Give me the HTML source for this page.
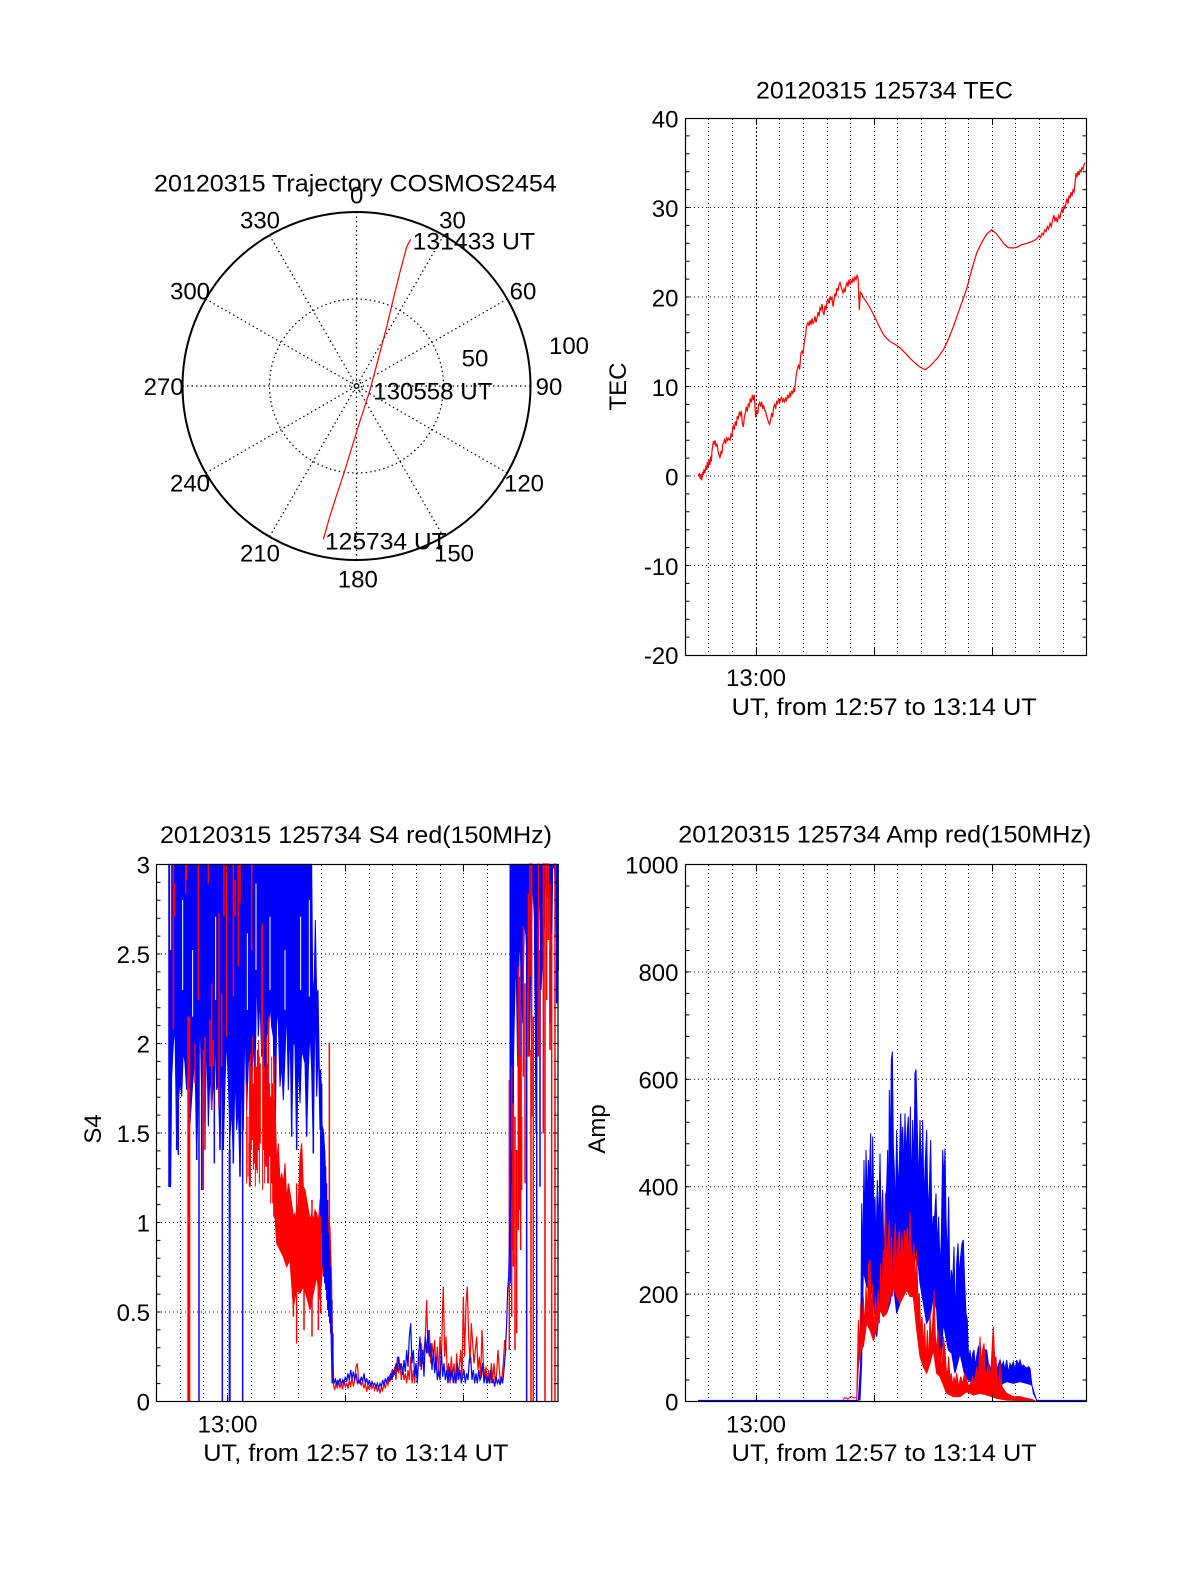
<!DOCTYPE html>
<html>
<head>
<meta charset="utf-8">
<style>
html,body{margin:0;padding:0;background:#fff;}
svg{display:block;}
text{font-family:"Liberation Sans",Arial,Helvetica,sans-serif;font-size:24px;fill:#000;}
</style>
</head>
<body>
<svg width="1200" height="1575" viewBox="0 0 1200 1575" xmlns="http://www.w3.org/2000/svg">
<rect width="1200" height="1575" fill="#fff"/>

<!-- ================= POLAR PLOT ================= -->
<g fill="none" stroke="#000">
  <g stroke-width="1.2" stroke-dasharray="1.5,3">
    <line x1="356.5" y1="212" x2="356.5" y2="560"/>
    <line x1="443.5" y1="235.3" x2="269.5" y2="536.7"/>
    <line x1="507.2" y1="299" x2="205.8" y2="473"/>
    <line x1="530.5" y1="386" x2="182.5" y2="386"/>
    <line x1="507.2" y1="473" x2="205.8" y2="299"/>
    <line x1="443.5" y1="536.7" x2="269.5" y2="235.3"/>
    <circle cx="356.5" cy="386" r="87"/>
    <circle cx="356.5" cy="386" r="5"/>
  </g>
  <circle cx="356.5" cy="386" r="174" stroke-width="2"/>
</g>
<polyline fill="none" stroke="#f00" stroke-width="1.2" points="323.3,539.3 330,516 337,494 344,473 352,447 360,421 370,390 378,360 386.7,326.7 394,296 400,272 406.7,246.7 410.7,239.3"/>
<text x="154" y="191.7" textLength="402.7" lengthAdjust="spacingAndGlyphs">20120315 Trajectory COSMOS2454</text>
<g text-anchor="middle">
<text x="356.7" y="203.3">0</text>
<text x="452.5" y="228.3">30</text>
<text x="523" y="299.3">60</text>
<text x="549" y="395">90</text>
<text x="524" y="491.7">120</text>
<text x="454" y="561.7">150</text>
<text x="357.8" y="587.3">180</text>
<text x="260" y="561.7">210</text>
<text x="190" y="491.7">240</text>
<text x="163.7" y="395">270</text>
<text x="190" y="299.3">300</text>
<text x="260" y="228.3">330</text>
<text x="475" y="366.7">50</text>
<text x="569" y="354">100</text>
</g>
<text x="412.7" y="249.3" textLength="122.3" lengthAdjust="spacingAndGlyphs">131433 UT</text>
<text x="373.3" y="399.3" textLength="119" lengthAdjust="spacingAndGlyphs">130558 UT</text>
<text x="325" y="549.3" textLength="121.7" lengthAdjust="spacingAndGlyphs">125734 UT</text>

<!-- ================= TEC PLOT ================= -->
<g stroke="#000" stroke-width="1" fill="none" stroke-dasharray="1,3">
  <path d="M708.5,119V655M732.5,119V655M779.5,119V655M803.5,119V655M827.5,119V655M850.5,119V655M874.5,119V655M897.5,119V655M921.5,119V655M945.5,119V655M968.5,119V655M992.5,119V655M1015.5,119V655M1039.5,119V655M1063.5,119V655"/>
  <path d="M686,207.5H1086M686,297H1086M686,386.5H1086M686,476H1086M686,565.5H1086"/>
</g>
<path d="M756.5,119V655" stroke="#000" stroke-width="1" stroke-dasharray="2,2" fill="none"/>
<rect x="685.5" y="118.5" width="401" height="537" fill="none" stroke="#000" stroke-width="1.2"/>
<g stroke="#000" stroke-width="1" fill="none">
  <path d="M685.5,135.9h4m-4,17.9h4m-4,17.9h4m-4,17.9h4m-4,17.9h4m-4,17.9h4m-4,17.9h4m-4,17.9h4m-4,17.9h4m-4,17.9h4m-4,17.9h4m-4,17.9h4m-4,17.9h4m-4,17.9h4m-4,17.9h4m-4,17.9h4m-4,17.9h4m-4,17.9h4m-4,17.9h4m-4,17.9h4m-4,17.9h4m-4,17.9h4m-4,17.9h4m-4,17.9h4m-4,17.9h4m-4,17.9h4m-4,17.9h4m-4,17.9h4m-4,17.9h4"/>
  <path d="M1086.5,135.9h-4m4,17.9h-4m4,17.9h-4m4,17.9h-4m4,17.9h-4m4,17.9h-4m4,17.9h-4m4,17.9h-4m4,17.9h-4m4,17.9h-4m4,17.9h-4m4,17.9h-4m4,17.9h-4m4,17.9h-4m4,17.9h-4m4,17.9h-4m4,17.9h-4m4,17.9h-4m4,17.9h-4m4,17.9h-4m4,17.9h-4m4,17.9h-4m4,17.9h-4m4,17.9h-4m4,17.9h-4m4,17.9h-4m4,17.9h-4m4,17.9h-4m4,17.9h-4"/>
  <path d="M756.5,655v-7M874.5,655v-7M992.5,655v-7M756.5,118v7M874.5,118v7M992.5,118v7"/>
</g>
<g transform="translate(600,70) scale(0.33333,0.42088)">
<path vector-effect="non-scaling-stroke" fill="none" stroke="#f00" stroke-width="1.2" d="M295,965 L298,958 301,972 303,960 305,975 308,955 310,962 312,948 315,958 318,940 320,950 322,932 325,945 327,925 330,938 332,918 334,930 336,905 338,895 340,882 343,890 345,880 348,895 351,888 354,905 357,915 360,922 363,905 366,912 368,890 371,885 374,878 377,888 380,872 383,880 386,875 390,880 393,866 396,872 398,850 400,845 403,855 406,835 409,845 412,822 415,830 418,812 421,820 424,810 427,840 430,848 433,825 436,815 439,800 442,812 445,792 448,798 451,780 454,790 457,772 460,785 463,772 465,800 467,825 470,808 473,818 476,795 479,790 482,800 485,788 488,805 491,798 494,808 497,812 500,822 503,830 506,838 509,842 512,830 515,815 518,825 521,800 524,795 527,805 530,788 533,792 536,780 539,790 542,782 545,778 548,790 551,782 554,788 557,780 560,785 563,772 566,780 569,768 572,775 575,762 578,770 581,758 584,765 586,745 588,728 590,718 593,708 596,700 599,712 601,690 603,672 606,668 609,675 612,652 614,640 617,630 619,612 621,605 624,600 627,608 630,595 633,605 636,590 639,602 642,598 645,585 648,600 651,590 654,575 657,585 660,565 663,570 666,556 669,575 672,582 675,560 678,570 681,550 684,545 687,555 690,538 693,545 696,540 699,562 702,548 705,530 708,538 711,518 714,525 717,510 720,505 723,515 726,522 729,530 732,520 735,528 738,512 741,505 744,515 747,498 750,510 753,500 756,505 759,495 762,502 765,492 768,498 771,488 774,492 776,530 778,570 779,555 781,528 784,530 790,540 800,552 810,565 820,580 835,605 850,628 860,638 870,645 885,652 900,660 915,672 930,685 945,696 960,706 975,712 988,705 1000,695 1015,682 1030,665 1045,640 1060,610 1080,565 1100,520 1115,475 1130,435 1145,410 1160,390 1175,380 1188,388 1200,400 1212,413 1225,422 1240,423 1252,421 1265,415 1280,412 1295,408 1305,404 1312,400 1318,393 1322,398 1326,388 1330,392 1334,380 1338,384 1342,372 1346,378 1350,364 1354,372 1358,355 1362,345 1365,360 1368,350 1372,362 1376,345 1380,352 1383,338 1386,330 1389,340 1392,322 1395,330 1398,315 1401,305 1404,318 1407,298 1410,305 1413,290 1416,300 1419,285 1422,290 1425,270 1428,245 1431,255 1434,240 1437,250 1440,238 1443,242 1446,232 1449,236 1452,225 1455,220"/>
</g>
<text x="756" y="98.6" textLength="257" lengthAdjust="spacingAndGlyphs">20120315 125734 TEC</text>
<g text-anchor="end">
<text x="678.5" y="127.5">40</text>
<text x="678.5" y="217">30</text>
<text x="678.5" y="306.5">20</text>
<text x="678.5" y="396">10</text>
<text x="678.5" y="485.5">0</text>
<text x="678.5" y="575">-10</text>
<text x="678.5" y="664">-20</text>
</g>
<text transform="translate(626,386.5) rotate(-90)" text-anchor="middle">TEC</text>
<text x="756" y="686" text-anchor="middle">13:00</text>
<text x="731.7" y="715" textLength="305" lengthAdjust="spacingAndGlyphs">UT, from 12:57 to 13:14 UT</text>

<!-- ================= S4 PLOT ================= -->
<g stroke="#000" stroke-width="1" fill="none" stroke-dasharray="1,3">
  <path d="M180.5,865V1401M203.5,865V1401M227.5,865V1401M251.5,865V1401M274.5,865V1401M298.5,865V1401M321.5,865V1401M345.5,865V1401M369.5,865V1401M392.5,865V1401M416.5,865V1401M440.5,865V1401M463.5,865V1401M487.5,865V1401M510.5,865V1401M534.5,865V1401"/>
  <path d="M157,954H558M157,1043.5H558M157,1133H558M157,1222.5H558M157,1312H558"/>
</g>

<!-- S4 data, zoom5 coordinates -->
<g transform="translate(150,850) scale(0.33333)">
  <!-- blue left mass -->
  <path vector-effect="non-scaling-stroke" fill="#00f" stroke="#00f" stroke-width="1" d="M57,43 L485,43 488,390 492,430 496,210 500,440 504,420 508,660 512,660 516,830 520,840 524,900 528,1000 532,1100 536,1180 540,1260 544,1350 547,1450 550,1590 546,1600 542,1400 538,1280 534,1150 530,1080 526,1060 522,1100 518,1000 515,700 510,840 505,590 500,740 495,440 490,910 485,660 480,540 475,660 470,860 465,640 460,620 455,600 450,760 445,620 440,900 435,590 430,560 425,860 420,520 415,720 410,470 405,620 400,750 395,640 390,710 385,520 380,480 375,940 370,560 365,530 360,460 355,560 350,540 345,940 340,530 335,620 330,440 325,560 320,360 315,710 310,560 305,720 300,600 295,640 290,780 285,500 280,840 275,680 270,980 265,770 260,840 255,660 250,940 245,770 240,860 235,700 230,560 225,700 220,900 215,580 210,900 205,700 200,720 195,560 190,700 185,780 180,660 175,830 170,540 165,860 160,620 155,720 150,500 140,930 135,620 128,700 120,820 115,500 110,720 105,640 100,600 95,740 90,690 85,760 80,900 75,530 70,580 65,680 62,1010 57,1010 Z"/>
  <!-- a few white gaps inside blue mass -->
  <path vector-effect="non-scaling-stroke" fill="none" stroke="#fff" stroke-width="1" d="M62,43V300M98,150V420M128,300V500M197,200V450M292,250V480M318,100V360M360,200V420M405,300V480M452,200V420M478,150V440"/>
  <!-- blue spikes left -->
  <path vector-effect="non-scaling-stroke" fill="none" stroke="#00f" stroke-width="1.5" d="M57,43V1010M80,550V900M85,600V915M140,600V930M155,600V1020M193,600V940M210,600V900M220,600V900M250,700V940M270,700V980M300,600V940M345,600V940M375,600V940M425,600V860M440,600V900M470,600V860M490,700V910M147,600V1654M217,600V1654M239,600V1654M278,600V1654"/>
  <path vector-effect="non-scaling-stroke" fill="none" stroke="#00f" stroke-width="2" d="M239,900V1654"/>
  <!-- red spikes in 290-375 region -->
  <path vector-effect="non-scaling-stroke" fill="none" stroke="#f00" stroke-width="1" d="M290,700V1000M294,800V980M298,880V1010M301,610V1000M304,650V900M307,560V870M310,700V960M313,650V940M316,600V1010M319,650V960M322,600V970M325,570V900M328,620V1000M331,640V880M335,230V600M338,600V1020M341,520V900M344,650V1000M347,720V950M350,560V950M353,640V1000M356,500V1000M359,700V920M362,740V1060M365,620V1000M368,700V1060M371,750V1100M374,700V1100"/>
  <!-- red mass -->
  <path vector-effect="non-scaling-stroke" fill="#f00" stroke="#f00" stroke-width="1" d="M375,760 L380,940 385,880 390,1000 395,970 400,1000 405,940 410,1050 415,1000 420,1030 425,1060 430,1100 435,1090 440,1120 445,1060 450,920 455,880 460,1010 465,1020 470,1050 475,1080 480,1110 485,1090 490,1110 495,1080 500,1090 505,1120 510,1050 515,1040 520,1040 525,1000 530,1060 535,1120 540,1130 545,1300 548,1500 551,1580 546,1530 540,1300 530,1260 520,1230 510,1350 500,1280 490,1330 480,1380 470,1340 460,1310 450,1330 440,1320 430,1370 420,1230 410,1250 400,1220 390,1200 380,1180 375,1100 Z"/>
  <!-- red spikes left -->
  <path vector-effect="non-scaling-stroke" fill="none" stroke="#f00" stroke-width="1.5" d="M70,43V540M73,100V200M107,43V130M110,43V90M135,580V700M145,43V450M160,600V1020M165,560V900M175,43V100M180,510V650M185,400V780M190,570V650M207,190V770M215,430V650M222,43V200M230,43V560M250,43V440M255,90V200M265,43V350M270,43V160M300,700V1010M305,43V300M318,650V780M325,600V790M337,220V600M355,510V800M372,620V1060M538,578V1200M430,1100V1400M440,1000V1480M462,1100V1440M486,1050V1460M505,1100V1440M512,1250V1390"/>
  <rect x="112" y="500" width="9" height="1154" fill="#f00"/>
  <!-- blue descending over red -->
  <path vector-effect="non-scaling-stroke" fill="none" stroke="#00f" stroke-width="1.2" d="M512,660V1100M515,700V1150M518,830V1250M521,850V1280M524,900V1300M527,950V1320M530,1000V1350M533,1050V1380M536,1150V1400M539,1200V1420M542,1250V1450M546,1350V1560M549,1450V1590"/>

  <!-- right mass blue -->
  <path vector-effect="non-scaling-stroke" fill="#00f" stroke="#00f" stroke-width="1" d="M1080,43 L1225,43 1225,360 1221,360 1218,200 1214,60 1208,45 1203,520 1198,60 1193,140 1188,60 1183,200 1178,320 1173,420 1168,70 1163,320 1158,850 1153,200 1148,90 1143,300 1138,620 1133,380 1128,260 1123,210 1118,520 1113,345 1108,260 1103,650 1098,300 1093,500 1088,740 1083,600 1080,900 Z"/>
  <path vector-effect="non-scaling-stroke" fill="none" stroke="#00f" stroke-width="1.5" d="M1130,300V1654M1160,300V1654M1082,500V1300M1086,600V1200M1090,500V1100M1113,300V1010M1170,300V1010M1220,300V460M1200,300V520"/>
  <!-- right red spikes -->
  <path vector-effect="non-scaling-stroke" fill="none" stroke="#f00" stroke-width="1.5" d="M1078,690V1500M1085,650V1400M1090,760V1250M1095,800V1500M1100,900V1450M1105,350V1140M1108,380V1080M1112,620V1200M1115,800V1020M1120,230V680M1125,400V1000M1135,130V620M1140,40V380M1145,40V800M1165,40V620M1180,40V850M1185,40V1654M1190,40V450M1195,40V270M1200,100V600M1143,600V1654M1150,500V1654M1205,250V1654M1215,40V1654"/>
</g>

<!-- S4 quiet region, zoom6 coordinates -->
<g transform="translate(150,1150) scale(0.33333)">
  <polyline vector-effect="non-scaling-stroke" fill="none" stroke="#f00" stroke-width="1.2" points="546,630 550,700 554,720 558,700 562,715 566,695 570,712 574,700 578,718 582,690 586,710 590,700 594,716 598,690 602,712 606,680 610,710 614,690 618,650 622,640 626,700 630,690 634,705 638,695 642,715 646,700 650,725 654,705 658,720 662,700 666,715 670,705 674,720 678,705 682,725 686,710 690,730 694,712 698,722 702,700 706,715 710,695 714,705 718,680 722,690 726,660 730,680 734,650 738,690 742,620 746,670 750,640 754,690 758,650 762,690 766,670 770,700 774,660 778,690 782,620 786,700 790,660 794,700 798,640 802,690 806,600 810,650 814,580 818,640 822,600 826,560 830,450 834,610 838,540 842,640 846,580 850,620 854,570 858,660 862,590 866,680 870,560 874,640 878,470 880,410 884,620 888,560 892,680 896,640 900,700 904,620 908,680 912,640 916,700 920,610 924,690 928,650 932,600 936,690 940,440 944,620 948,460 952,410 956,560 960,640 964,520 968,580 972,640 976,600 980,560 984,660 988,620 992,680 996,540 1000,640 1004,680 1008,650 1012,700 1016,660 1020,700 1024,640 1028,690 1032,640 1036,700 1040,670 1044,600 1048,660 1052,700 1056,680 1060,640 1064,570 1068,600"/>
  <polyline vector-effect="non-scaling-stroke" fill="none" stroke="#00f" stroke-width="1.2" points="546,600 550,690 553,700 556,685 560,705 563,690 566,700 570,685 574,705 578,690 582,700 586,680 590,695 594,670 598,690 602,660 606,685 610,665 614,690 618,670 622,700 626,690 630,700 634,680 638,695 642,670 646,700 650,685 654,705 658,690 662,710 666,695 670,705 674,700 678,712 682,700 686,715 690,700 694,710 698,690 702,705 706,685 710,700 714,680 718,695 722,670 726,690 730,660 734,675 738,640 742,665 746,620 750,660 754,640 758,675 762,630 766,665 770,600 774,650 778,560 782,520 786,640 790,600 794,680 798,640 802,700 806,620 810,560 814,660 818,600 822,680 826,560 830,610 834,540 838,620 842,580 846,660 850,600 854,670 858,620 862,690 866,660 870,690 874,600 878,680 882,640 886,690 890,660 894,700 898,650 902,690 906,660 910,700 914,670 918,700 922,640 926,690 930,660 934,700 938,680 942,660 946,700 950,670 954,690 958,630 962,620 966,690 970,660 974,700 978,670 982,700 986,660 990,690 994,680 998,640 1002,700 1006,670 1010,700 1014,680 1018,700 1022,660 1026,700 1030,690 1034,710 1038,680 1042,700 1046,690 1050,705 1054,680 1058,700 1062,660 1066,610 1070,520 1073,420 1076,380 1078,300 1080,200 1083,100 1086,0"/>
  <path vector-effect="non-scaling-stroke" fill="none" stroke="#f00" stroke-width="1.2" d="M1088,0V300M1095,0V340M1100,0V280M1105,0V200M1112,0V120"/>
</g>

<rect x="156.5" y="864.5" width="401.5" height="537" fill="none" stroke="#000" stroke-width="1.2"/>
<g stroke="#000" stroke-width="1" fill="none">
  <path d="M156.5,882.4h4m-4,17.9h4m-4,17.9h4m-4,17.9h4m-4,17.9h4m-4,17.9h4m-4,17.9h4m-4,17.9h4m-4,17.9h4m-4,17.9h4m-4,17.9h4m-4,17.9h4m-4,17.9h4m-4,17.9h4m-4,17.9h4m-4,17.9h4m-4,17.9h4m-4,17.9h4m-4,17.9h4m-4,17.9h4m-4,17.9h4m-4,17.9h4m-4,17.9h4m-4,17.9h4m-4,17.9h4m-4,17.9h4m-4,17.9h4m-4,17.9h4m-4,17.9h4"/>
  <path d="M558,882.4h-4m4,17.9h-4m4,17.9h-4m4,17.9h-4m4,17.9h-4m4,17.9h-4m4,17.9h-4m4,17.9h-4m4,17.9h-4m4,17.9h-4m4,17.9h-4m4,17.9h-4m4,17.9h-4m4,17.9h-4m4,17.9h-4m4,17.9h-4m4,17.9h-4m4,17.9h-4m4,17.9h-4m4,17.9h-4m4,17.9h-4m4,17.9h-4m4,17.9h-4m4,17.9h-4m4,17.9h-4m4,17.9h-4m4,17.9h-4m4,17.9h-4m4,17.9h-4"/>
  <path d="M227.5,1401.5v-7M345.5,1401.5v-7M463.5,1401.5v-7M227.5,864.5v7M345.5,864.5v7M463.5,864.5v7"/>
</g>
<text x="160" y="843" textLength="392" lengthAdjust="spacingAndGlyphs">20120315 125734 S4 red(150MHz)</text>
<g text-anchor="end">
<text x="150" y="873.5">3</text>
<text x="150" y="963">2.5</text>
<text x="150" y="1052.5">2</text>
<text x="150" y="1142">1.5</text>
<text x="150" y="1231.5">1</text>
<text x="150" y="1321">0.5</text>
<text x="150" y="1410.5">0</text>
</g>
<text transform="translate(101,1129) rotate(-90)" text-anchor="middle">S4</text>
<text x="227.5" y="1432.5" text-anchor="middle">13:00</text>
<text x="203.3" y="1461" textLength="305" lengthAdjust="spacingAndGlyphs">UT, from 12:57 to 13:14 UT</text>

<!-- ================= AMP PLOT ================= -->
<g stroke="#000" stroke-width="1" fill="none" stroke-dasharray="1,3">
  <path d="M708.5,865V1401M732.5,865V1401M756.5,865V1401M779.5,865V1401M803.5,865V1401M827.5,865V1401M850.5,865V1401M874.5,865V1401M897.5,865V1401M921.5,865V1401M945.5,865V1401M968.5,865V1401M992.5,865V1401M1015.5,865V1401M1039.5,865V1401M1063.5,865V1401"/>
  <path d="M686,971.9H1086M686,1079.3H1086M686,1186.7H1086M686,1294.1H1086"/>
</g>
<g transform="translate(840,1030) scale(0.33333)">
  <path vector-effect="non-scaling-stroke" fill="#00f" stroke="#00f" stroke-width="1" d="M55,1110 L62,1000 65,520 68,700 72,390 75,600 78,360 82,520 85,390 88,450 92,310 95,600 98,320 102,560 105,500 108,650 112,450 116,600 120,370 124,620 128,480 132,700 136,520 140,470 143,360 146,560 148,180 151,400 154,90 157,65 160,350 163,420 166,560 170,300 174,480 178,400 182,250 185,360 188,290 192,420 195,250 198,380 202,300 205,260 208,450 211,230 214,500 218,270 222,420 225,130 228,118 232,300 236,480 240,270 244,460 248,270 252,520 256,390 260,300 264,560 268,470 272,330 276,620 280,560 284,560 288,490 292,660 296,560 300,720 304,620 308,360 312,450 315,355 318,560 322,700 326,500 330,800 334,720 338,760 342,650 346,880 350,700 354,640 358,740 362,680 366,640 370,630 374,760 378,850 382,870 386,1000 390,960 394,1000 398,970 402,960 406,1010 410,980 415,950 420,960 425,1000 430,960 440,960 445,1000 450,1010 455,1040 460,1000 465,1030 470,1020 475,1005 480,990 485,1010 490,995 495,1020 500,990 505,1030 510,1000 515,1010 520,995 525,1020 530,990 535,1005 540,990 545,1010 550,1005 555,1010 560,1015 565,1010 570,1015 575,1060 580,1090 590,1110 590,1112 575,1065 560,1060 540,1055 520,1060 500,1055 480,1065 460,1060 440,1050 420,1055 400,1060 385,1050 375,1040 360,970 345,1030 335,970 325,960 310,880 300,1040 290,840 280,800 270,860 260,880 250,820 240,760 230,660 220,720 210,700 200,750 190,780 180,820 170,850 160,760 150,820 140,850 130,860 120,830 110,920 100,800 90,780 80,770 70,720 65,1000 60,1110 Z"/>
  <path vector-effect="non-scaling-stroke" fill="#f00" stroke="#f00" stroke-width="1" d="M50,1110 L55,870 58,960 62,820 66,950 70,800 74,900 78,770 82,850 86,700 90,690 94,850 98,760 102,930 106,800 110,860 114,780 118,880 122,700 126,800 130,660 133,760 136,490 140,720 144,620 148,570 152,740 155,620 158,800 162,640 166,580 170,720 174,640 178,600 182,720 186,610 190,700 194,600 198,640 202,590 206,700 210,545 214,650 218,700 222,640 226,780 230,660 234,820 238,790 242,900 246,860 250,950 254,880 258,1000 262,900 266,1010 270,850 274,940 278,880 282,780 286,920 290,960 294,900 298,1000 302,950 306,1040 310,920 314,950 318,1010 322,1040 326,980 330,1050 334,1030 338,1070 342,1040 346,1060 350,1030 356,1070 362,1040 368,1060 374,1030 380,1050 386,1070 392,1060 398,1040 404,1060 410,1010 416,1040 420,920 424,1000 428,960 432,940 436,1020 440,1030 446,1000 452,1050 456,960 460,890 464,990 468,980 472,1050 476,1060 480,1000 486,1070 492,1080 500,1090 510,1095 520,1100 540,1100 560,1105 575,1108 585,1112 585,1114 540,1112 500,1110 470,1105 440,1095 420,1090 400,1095 380,1085 360,1100 340,1100 320,1090 300,1040 290,1030 280,960 270,1000 260,1030 250,1010 240,980 230,900 220,800 210,800 200,780 190,800 180,820 170,800 160,770 150,800 140,850 130,860 120,840 110,900 100,930 90,900 80,880 70,950 62,960 55,1010 50,1114 Z"/>
</g>
<polyline fill="none" stroke="#f00" stroke-width="1" points="843,1399.5 845,1397.5 848,1399 851,1396.5 854,1398 857,1397"/>
<path d="M698,1400.5H858M1036,1400.5H1086" stroke="#00f" stroke-width="1.2" fill="none"/>
<rect x="685.5" y="864.5" width="401" height="537" fill="none" stroke="#000" stroke-width="1.2"/>
<g stroke="#000" stroke-width="1" fill="none">
  <path d="M685.5,886h4m-4,21.48h4m-4,21.48h4m-4,21.48h4m-4,21.48h4m-4,21.48h4m-4,21.48h4m-4,21.48h4m-4,21.48h4m-4,21.48h4m-4,21.48h4m-4,21.48h4m-4,21.48h4m-4,21.48h4m-4,21.48h4m-4,21.48h4m-4,21.48h4m-4,21.48h4m-4,21.48h4m-4,21.48h4m-4,21.48h4m-4,21.48h4m-4,21.48h4m-4,21.48h4"/>
  <path d="M1086.5,886h-4m4,21.48h-4m4,21.48h-4m4,21.48h-4m4,21.48h-4m4,21.48h-4m4,21.48h-4m4,21.48h-4m4,21.48h-4m4,21.48h-4m4,21.48h-4m4,21.48h-4m4,21.48h-4m4,21.48h-4m4,21.48h-4m4,21.48h-4m4,21.48h-4m4,21.48h-4m4,21.48h-4m4,21.48h-4m4,21.48h-4m4,21.48h-4m4,21.48h-4m4,21.48h-4"/>
  <path d="M756.5,1401.5v-7M874.5,1401.5v-7M992.5,1401.5v-7M756.5,864.5v7M874.5,864.5v7M992.5,864.5v7"/>
</g>
<text x="678.3" y="842.5" textLength="413" lengthAdjust="spacingAndGlyphs">20120315 125734 Amp red(150MHz)</text>
<g text-anchor="end">
<text x="678.5" y="873.5">1000</text>
<text x="678.5" y="980.9">800</text>
<text x="678.5" y="1088.3">600</text>
<text x="678.5" y="1195.7">400</text>
<text x="678.5" y="1303.1">200</text>
<text x="678.5" y="1410.5">0</text>
</g>
<text transform="translate(605,1129) rotate(-90)" text-anchor="middle">Amp</text>
<text x="756" y="1432.5" text-anchor="middle">13:00</text>
<text x="731.7" y="1461" textLength="305" lengthAdjust="spacingAndGlyphs">UT, from 12:57 to 13:14 UT</text>
</svg>
</body>
</html>
